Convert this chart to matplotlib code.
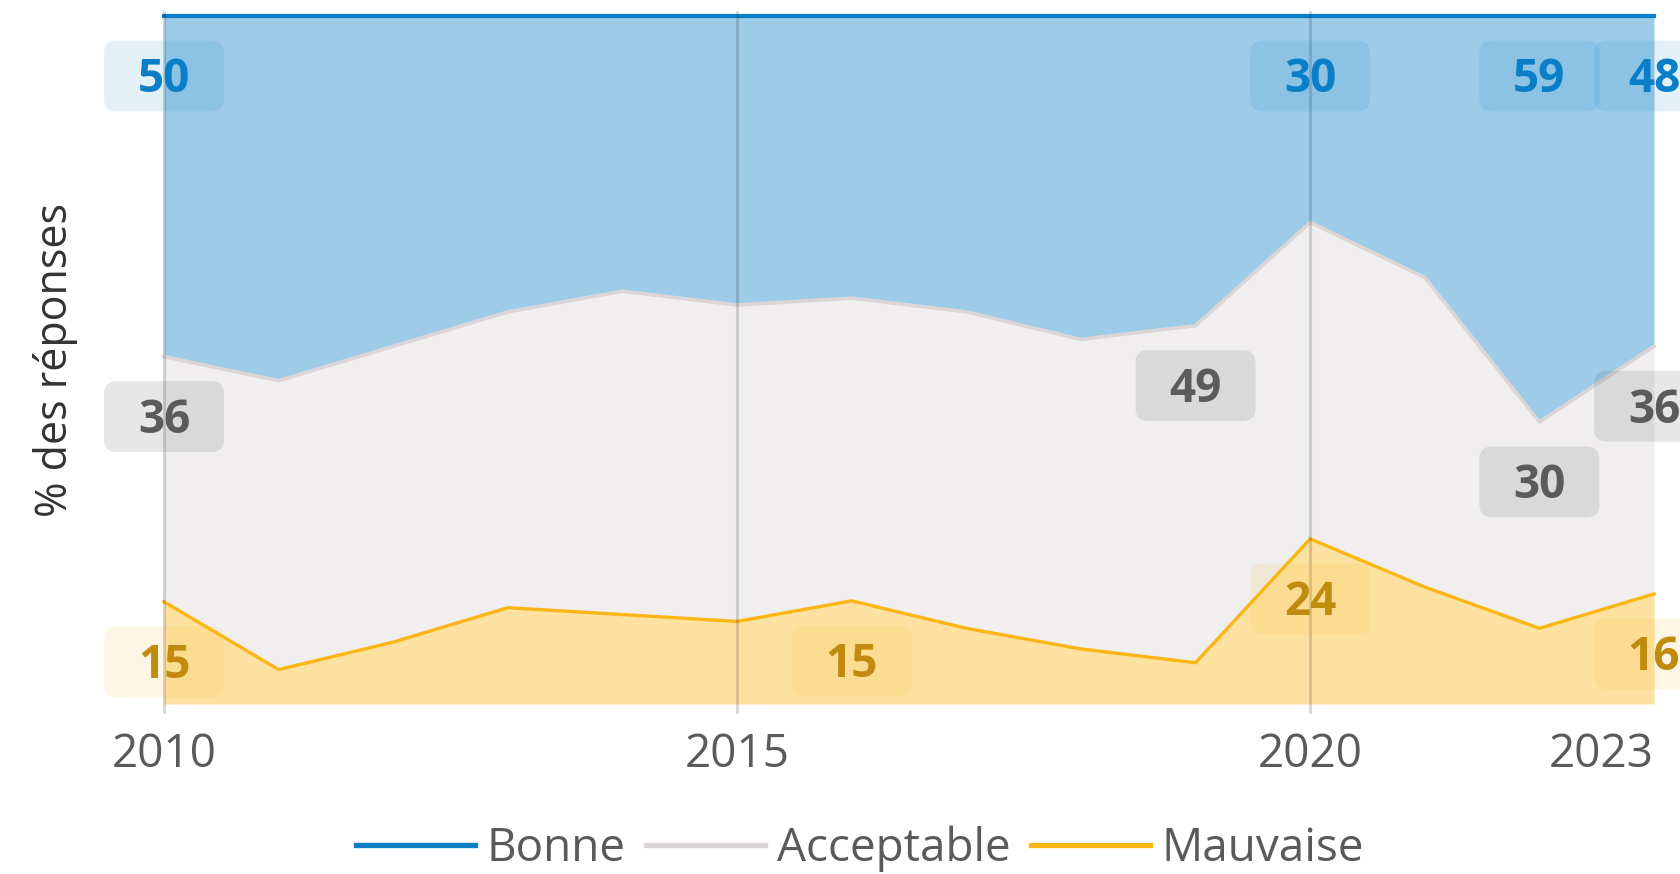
import numpy as np
import matplotlib
matplotlib.use("Agg")
import matplotlib.pyplot as plt
from matplotlib.patches import FancyBboxPatch
from matplotlib.transforms import ScaledTranslation, offset_copy
from matplotlib.lines import Line2D

plt.rcParams["font.family"] = ["Open Sans", "DejaVu Sans"]

# --- data -------------------------------------------------------------
years = np.arange(2010, 2024)
bonne = [50, 53, 48, 43, 40, 42, 41, 43, 47, 45, 30, 38, 59, 48]
acceptable = [36, 42, 43, 43, 47, 46, 44, 46, 45, 49, 46, 45, 30, 36]
mauvaise = [15, 5, 9, 14, 13, 12, 15, 11, 8, 6, 24, 17, 11, 16]

series_names = ["Bonne", "Acceptable", "Mauvaise"]
tick_years = [2010, 2015, 2020, 2023]
grid_years = [2010, 2015, 2020]

# years whose value is written on the chart, per series
bonne_labelled = [2010, 2020, 2022, 2023]
acceptable_labelled = [2010, 2019, 2022, 2023]
mauvaise_labelled = [2010, 2016, 2020, 2023]

# --- colours ----------------------------------------------------------
col_b = "#0a7ec6"
col_a = "#dad5d7"
col_m = "#fbb616"
txt_b = "#0a7fc7"
txt_a = "#5b5b5b"
txt_m = "#c08b0e"

W, H, DPI = 1681, 874, 100
fig = plt.figure(figsize=(W / DPI, H / DPI), dpi=DPI)
ax = fig.add_axes([164 / W, 1 - 704 / H, 1490 / W, 688 / H])
ax.set_xlim(2010, 2023)
ax.set_ylim(0, 100)
ax.autoscale(False)

# 100 % stacking
b = np.array(bonne, float)
a = np.array(acceptable, float)
m = np.array(mauvaise, float)
total = b + a + m
m_top = m / total * 100
a_top = (m + a) / total * 100
b_top = (m + a + b) / total * 100

ax.fill_between(years, 0, m_top, color=col_m, alpha=0.4, lw=0, zorder=1)
ax.fill_between(years, m_top, a_top, color=col_a, alpha=0.4, lw=0, zorder=1)
ax.fill_between(years, a_top, b_top, color=col_b, alpha=0.4, lw=0, zorder=1)

ax.plot(years, m_top, color=col_m, lw=2.4, zorder=2, clip_on=False)
ax.plot(years, a_top, color=col_a, lw=2.6, zorder=2, clip_on=False)
ax.plot(years, b_top, color=col_b, lw=3.0, zorder=2, clip_on=False)

for yr in grid_years:
    ax.axvline(yr, ymin=-0.012, ymax=1.006, color="#1a1a1a", alpha=0.17,
               lw=2.2, zorder=3, clip_on=False)

for s in ax.spines.values():
    s.set_visible(False)
ax.set_yticks([])
ax.set_xticks(tick_years)
ax.set_xticklabels([str(y) for y in tick_years])
ax.tick_params(axis="x", length=0, pad=20, labelsize=33, labelcolor="#5a5a5a")
# the last year sits on the right edge: keep its label inside the figure
ax.get_xticklabels()[-1].set_horizontalalignment("right")

# --- value labels -----------------------------------------------------
FS_LABEL = 33
cap_px = 0.714 * FS_LABEL * DPI / 72
OFF = 60  # label centre below the stack top, pixels
BOX_W, BOX_H, BOX_R = 120, 71, 13


def value_label(x, ytop, value, fg, bg, bg_alpha):
    tr = fig.dpi_scale_trans + ScaledTranslation(x, ytop, ax.transData)
    w, h = BOX_W / DPI, BOX_H / DPI
    box = FancyBboxPatch((-w / 2, -OFF / DPI - h / 2), w, h,
                         boxstyle=f"round,pad=0,rounding_size={BOX_R / DPI}",
                         transform=tr, fc=bg, ec="none", alpha=bg_alpha,
                         zorder=4, clip_on=False)
    ax.add_artist(box)
    ttr = offset_copy(ax.transData, fig=fig, x=0, y=-(OFF + cap_px / 2),
                      units="dots")
    ax.text(x, ytop, str(value), transform=ttr, ha="center", va="baseline",
            fontsize=FS_LABEL, fontweight="bold", color=fg, zorder=5,
            clip_on=False)


yrs = list(years)
for yr in bonne_labelled:
    i = yrs.index(yr)
    value_label(yr, b_top[i], bonne[i], txt_b, col_b, 0.11)
for yr in acceptable_labelled:
    i = yrs.index(yr)
    value_label(yr, a_top[i], acceptable[i], txt_a, "#5a5a5a", 0.14)
for yr in mauvaise_labelled:
    i = yrs.index(yr)
    value_label(yr, m_top[i], mauvaise[i], txt_m, col_m, 0.11)

# --- axis title and legend -------------------------------------------
fig.text(56 / W, 1 - 360 / H, "% des réponses", rotation=90, ha="center",
         va="center", fontsize=31, color="#333333")

handles = [Line2D([], [], color=c, lw=3.8) for c in (col_b, col_a, col_m)]
fig.legend(handles, series_names, loc="center",
           bbox_to_anchor=(860 / W, 1 - 849 / H), ncol=3, frameon=False,
           fontsize=33, handlelength=2.6, handletextpad=0.25,
           columnspacing=0.45, labelcolor="#5a5a5a", borderaxespad=0,
           borderpad=0)

fig.savefig("out.png", dpi=DPI)
